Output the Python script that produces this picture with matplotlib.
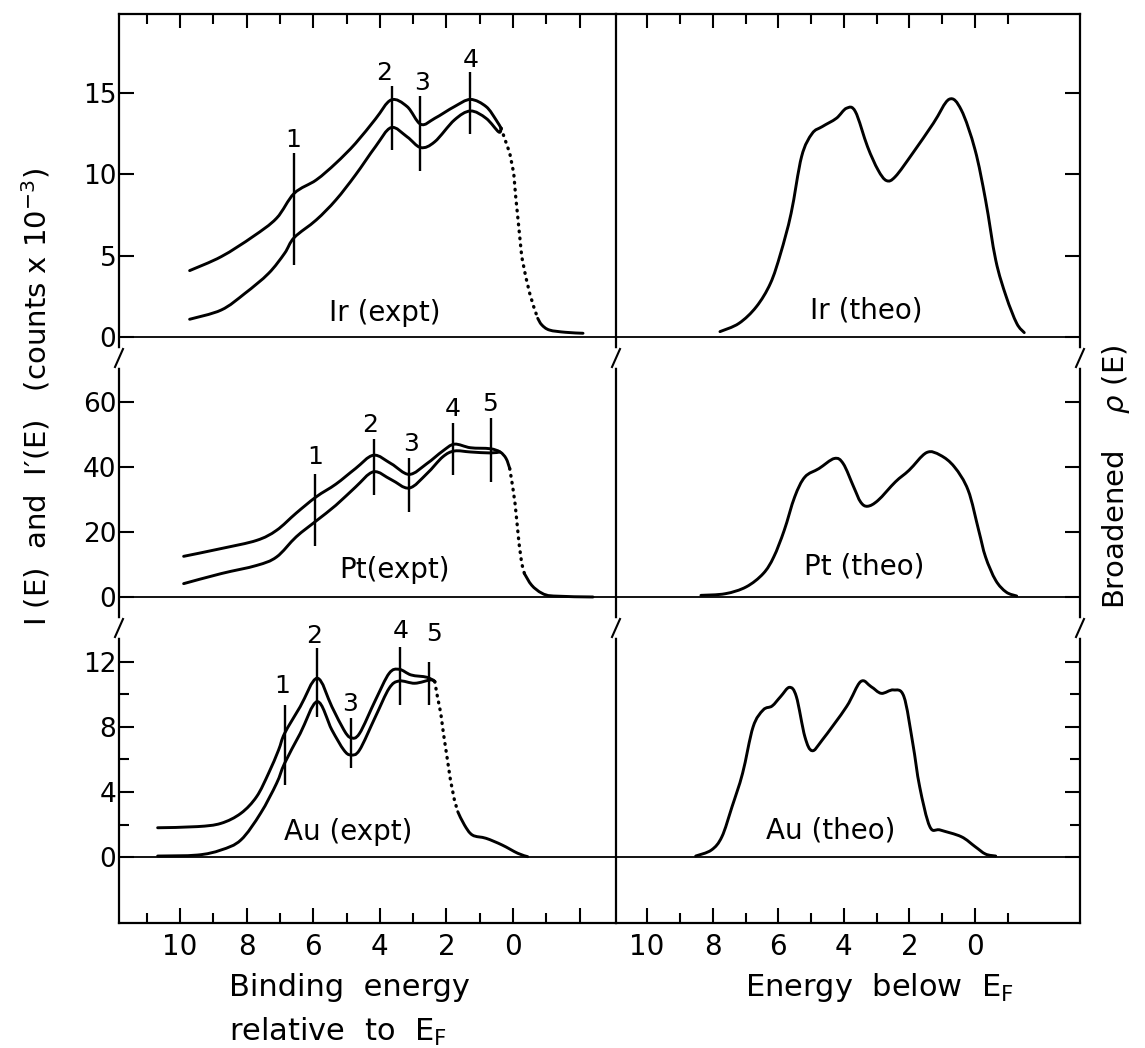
import matplotlib
matplotlib.use("Agg")
import numpy as np
import matplotlib.pyplot as plt
from matplotlib.lines import Line2D
from matplotlib.path import Path
from matplotlib.patches import PathPatch

plt.rcParams['font.family'] = ['DejaVu Sans']

# ---------------- data ----------------
# Ir experiment: I(E) upper, I'(E) lower, dotted Fermi edge, solid tail
ir_up_x = [9.71, 8.76, 7.81, 7.10, 6.57, 5.91, 5.32, 4.73, 4.13, 3.66, 3.18, 2.77, 2.35, 1.76, 1.28, 0.81, 0.51, 0.36]
ir_up_y = [4.08, 4.94, 6.17, 7.30, 8.83, 9.65, 10.68, 11.9, 13.4, 14.57, 14.16, 13.07, 13.44, 14.16, 14.6, 14.16, 13.34, 12.83]
ir_lo_x = [9.71, 8.76, 8.05, 7.34, 6.86, 6.57, 5.91, 5.32, 4.73, 4.13, 3.66, 3.18, 2.77, 2.35, 1.76, 1.28, 0.81, 0.43, 0.36]
ir_lo_y = [1.09, 1.66, 2.68, 3.91, 5.14, 6.11, 7.19, 8.42, 9.96, 11.7, 12.87, 12.3, 11.64, 12.0, 13.34, 13.89, 13.44, 12.6, 12.83]
ir_dot_x = [0.36, 0.27, 0.10, -0.02, -0.08, -0.14, -0.20, -0.26, -0.38, -0.50, -0.62, -0.74]
ir_dot_y = [12.83, 12.3, 11.3, 10.06, 8.6, 7.4, 6.17, 4.94, 3.71, 2.68, 1.86, 1.15]
ir_tail_x = [-0.74, -0.86, -1.09, -1.57, -2.10]
ir_tail_y = [1.15, 0.75, 0.43, 0.29, 0.23]
ir_mark_x = [6.57, 3.62, 2.79, 1.28]
ir_mark_lo = [4.43, 11.5, 10.2, 12.5]
ir_mark_hi = [11.3, 15.43, 14.8, 16.3]
ir_num_x = [6.6, 3.87, 2.73, 1.28]
ir_num_y = [12.1, 16.2, 15.6, 17.0]
ir_num = ['1', '2', '3', '4']

# Pt experiment
pt_up_x = [9.89, 8.76, 7.70, 7.10, 6.51, 5.91, 5.32, 4.73, 4.19, 3.66, 3.12, 2.59, 2.11, 1.76, 1.28, 0.69, 0.39, 0.21, 0.10]
pt_up_y = [12.5, 14.9, 17.4, 20.5, 25.8, 30.8, 34.7, 39.5, 43.6, 41.0, 37.7, 41.0, 44.9, 47.0, 45.9, 45.6, 44.6, 42.6, 39.5]
pt_lo_x = [9.89, 8.76, 7.70, 7.10, 6.51, 5.91, 5.32, 4.73, 4.19, 3.66, 3.12, 2.59, 2.11, 1.76, 1.28, 0.69, 0.39]
pt_lo_y = [4.1, 7.2, 9.7, 12.3, 18.5, 23.4, 28.2, 33.8, 38.5, 36.1, 33.5, 37.9, 43.1, 44.9, 44.6, 44.3, 44.6]
pt_dot_x = [0.10, 0.01, -0.06, -0.12, -0.18, -0.26, -0.34]
pt_dot_y = [39.5, 33.8, 28.7, 22.6, 16.4, 10.3, 7.2]
pt_tail_x = [-0.34, -0.56, -0.86, -1.21, -2.40]
pt_tail_y = [7.2, 3.6, 1.2, 0.3, 0.0]
pt_mark_x = [5.94, 4.16, 3.12, 1.79, 0.67]
pt_mark_lo = [15.6, 31.3, 26.2, 37.4, 35.4]
pt_mark_hi = [37.9, 48.7, 42.6, 53.5, 54.9]
pt_num_x = [5.95, 4.28, 3.06, 1.82, 0.69]
pt_num_y = [43.1, 52.8, 47.2, 57.7, 59.5]
pt_num = ['1', '2', '3', '4', '5']

# Au experiment
au_up_x = [10.67, 9.48, 8.77, 8.17, 7.70, 7.34, 7.04, 6.86, 6.39, 5.88, 5.44, 5.08, 4.87, 4.61, 4.13, 3.72, 3.42, 3.06, 2.59, 2.35]
au_up_y = [1.8, 1.87, 2.07, 2.69, 3.71, 5.15, 6.58, 7.6, 9.25, 11.0, 9.25, 7.82, 7.34, 7.6, 9.66, 11.3, 11.55, 11.2, 11.06, 10.8]
au_lo_x = [10.67, 9.48, 8.77, 8.17, 7.58, 7.10, 6.86, 6.39, 5.88, 5.44, 5.08, 4.87, 4.61, 4.13, 3.72, 3.42, 2.95, 2.47, 2.35]
au_lo_y = [0.06, 0.12, 0.43, 1.05, 2.69, 4.53, 5.76, 7.6, 9.56, 7.82, 6.58, 6.28, 6.58, 8.64, 10.38, 10.83, 10.69, 10.9, 10.8]
au_dot_x = [2.35, 2.29, 2.17, 2.09, 2.00, 1.88, 1.76, 1.66]
au_dot_y = [10.8, 10.07, 8.84, 7.6, 6.38, 4.74, 3.5, 2.79]
au_tail_x = [1.66, 1.46, 1.22, 0.81, 0.33, -0.14, -0.44]
au_tail_y = [2.79, 1.97, 1.35, 1.15, 0.74, 0.23, 0.02]
au_mark_x = [6.86, 5.88, 4.87, 3.38, 2.53]
au_mark_lo = [4.43, 8.64, 5.46, 9.35, 9.35]
au_mark_hi = [9.35, 12.84, 8.53, 12.94, 12.0]
au_num_x = [6.92, 5.97, 4.9, 3.38, 2.38]
au_num_y = [10.5, 13.6, 9.4, 13.9, 13.7]
au_num = ['1', '2', '3', '4', '5']

# theoretical broadened densities of states
ir_th_x = [7.78, 7.20, 6.67, 6.24, 5.93, 5.61, 5.29, 4.97, 4.66, 4.23, 3.92, 3.65, 3.28, 2.96, 2.70, 2.43,
           1.90, 1.27, 0.79, 0.42, 0.0, -0.32, -0.63, -0.95, -1.27, -1.50]
ir_th_y = [0.33, 0.84, 1.86, 3.30, 5.14, 7.6, 11.09, 12.5, 12.93, 13.44, 14.06, 13.85, 11.7, 10.27, 9.61, 9.86,
           11.3, 13.14, 14.61, 13.95, 11.5, 8.42, 4.73, 2.48, 0.84, 0.27]
pt_th_x = [8.36, 7.62, 6.98, 6.46, 6.14, 5.82, 5.50, 5.19, 4.76, 4.29, 4.02, 3.70, 3.49, 3.28, 2.96, 2.43,
           2.01, 1.48, 1.06, 0.63, 0.21, -0.11, -0.32, -0.63, -0.95, -1.27]
pt_th_y = [0.5, 1.0, 3.1, 7.2, 12.3, 20.5, 30.8, 36.9, 39.5, 42.6, 41.0, 33.8, 29.2, 27.9, 29.7, 35.4,
           39.0, 44.4, 43.6, 40.0, 32.8, 20.5, 12.3, 5.1, 1.5, 0.3]
au_th_x = [8.52, 8.04, 7.72, 7.41, 7.09, 6.77, 6.46, 6.19, 5.93, 5.66, 5.45, 5.19, 4.97, 4.66, 3.92, 3.49,
           3.17, 2.86, 2.49, 2.17, 1.90, 1.69, 1.38, 1.06, 0.42, 0.0, -0.32, -0.63]
au_th_y = [0.06, 0.43, 1.25, 3.1, 5.15, 8.0, 9.05, 9.29, 9.87, 10.44, 9.87, 7.4, 6.54, 7.2, 9.25, 10.79,
           10.48, 10.07, 10.28, 9.87, 7.0, 4.33, 1.87, 1.66, 1.25, 0.64, 0.18, 0.06]

ir_yticks = [0, 5, 10, 15]
pt_yticks = [0, 20, 40, 60]
au_yticks = [0, 4, 8, 12]
au_yminor = [2, 6, 10]

# ---------------- figure ----------------
W, H = 1145, 1048
fig = plt.figure(figsize=(W / 100, H / 100), dpi=100)
fig.patch.set_facecolor('white')


def px_axes(x0, x1, y0, y1):
    return fig.add_axes([x0 / W, 1 - y1 / H, (x1 - x0) / W, (y1 - y0) / H])


XL, XM, XR = 119, 616, 1080
rows = [(14, 358, (-1.29, 19.85)), (358, 628, (-9.54, 73.5)), (628, 923, (-4.06, 14.09))]
left_xlim = (11.83, -3.09)
right_xlim = (10.95, -3.2)

LW = 2.1
axes = []
for r, (y0, y1, ylim) in enumerate(rows):
    axL = px_axes(XL, XM, y0, y1)
    axR = px_axes(XM, XR, y0, y1)
    for ax, xlim in ((axL, left_xlim), (axR, right_xlim)):
        ax.set_xlim(*xlim)
        ax.set_ylim(*ylim)
        ax.patch.set_alpha(0)
        for s in ax.spines.values():
            s.set_linewidth(1.6)
        ax.spines['top'].set_visible(r == 0)
        ax.spines['bottom'].set_visible(r == 2)
        ax.axhline(0, color='black', lw=1.3)
    axR.spines['left'].set_visible(False)
    axes.append((axL, axR))

# x ticks
for ax, major, minor in ((axes[0][0], [10, 8, 6, 4, 2, 0, -2], [11, 9, 7, 5, 3, 1, -1]),
                         (axes[0][1], [10, 8, 6, 4, 2, 0], [9, 7, 5, 3, 1, -1])):
    ax.xaxis.tick_top()
    ax.set_xticks(major)
    ax.set_xticks(minor, minor=True)
    ax.tick_params(axis='x', which='both', direction='in', labeltop=False, width=1.5)
    ax.tick_params(axis='x', which='major', length=10)
    ax.tick_params(axis='x', which='minor', length=7)
for ax, major, minor, labels in ((axes[2][0], [10, 8, 6, 4, 2, 0, -2], [11, 9, 7, 5, 3, 1, -1],
                                  ['10', '8', '6', '4', '2', '0', '']),
                                 (axes[2][1], [10, 8, 6, 4, 2, 0], [9, 7, 5, 3, 1, -1],
                                  ['10', '8', '6', '4', '2', '0'])):
    ax.set_xticks(major, labels=labels)
    ax.set_xticks(minor, minor=True)
    ax.tick_params(axis='x', which='both', direction='in', width=1.5, labelsize=20, pad=7)
    ax.tick_params(axis='x', which='major', length=11)
    ax.tick_params(axis='x', which='minor', length=7)
for ax in (axes[1][0], axes[1][1]):
    ax.set_xticks([])

# y ticks
for (axL, axR), yt in zip(axes, (ir_yticks, pt_yticks, au_yticks)):
    axL.set_yticks(yt, labels=[str(v) for v in yt])
    axL.tick_params(axis='y', which='both', direction='in', length=11, width=1.5, labelsize=19, pad=2)
    axR.yaxis.tick_right()
    axR.set_yticks(yt)
    axR.tick_params(axis='y', which='both', direction='in', length=11, width=1.5, labelright=False)
for ax in axes[2]:
    ax.set_yticks(au_yminor, minor=True)
    ax.tick_params(axis='y', which='minor', direction='in', length=7, width=1.5)


def pen_curve(ax, xs, ys, lw=LW):
    # smooth pen-drawn look: cubic Bezier segments through the read points
    p = np.column_stack([xs, ys]).astype(float)
    ext = np.vstack([p[0], p, p[-1]])
    verts = [p[0]]
    codes = [Path.MOVETO]
    for i in range(len(p) - 1):
        p0, p1, p2, p3 = ext[i], ext[i + 1], ext[i + 2], ext[i + 3]
        verts += [p1 + (p2 - p0) / 6.0, p2 - (p3 - p1) / 6.0, p2]
        codes += [Path.CURVE4] * 3
    ax.add_patch(PathPatch(Path(verts, codes), fill=False, edgecolor='black', lw=lw,
                           capstyle='round', joinstyle='round'))


def draw_expt(ax, ux, uy, lx, ly, dx, dy, tx, ty, mx, mlo, mhi, nx, ny, nums, name, lpos):
    pen_curve(ax, ux, uy)
    pen_curve(ax, lx, ly)
    ax.plot(dx, dy, color='black', lw=2.4, linestyle=(0, (0.2, 1.9)), dash_capstyle='round')
    pen_curve(ax, tx, ty)
    ax.vlines(mx, mlo, mhi, color='black', lw=1.7)
    for x, y, t in zip(nx, ny, nums):
        ax.text(x, y, t, ha='center', va='center', fontsize=18)
    ax.text(lpos[0], lpos[1], name, ha='center', va='center', fontsize=20)


draw_expt(axes[0][0], ir_up_x, ir_up_y, ir_lo_x, ir_lo_y, ir_dot_x, ir_dot_y, ir_tail_x, ir_tail_y,
          ir_mark_x, ir_mark_lo, ir_mark_hi, ir_num_x, ir_num_y, ir_num, 'Ir (expt)', (3.84, 1.5))
draw_expt(axes[1][0], pt_up_x, pt_up_y, pt_lo_x, pt_lo_y, pt_dot_x, pt_dot_y, pt_tail_x, pt_tail_y,
          pt_mark_x, pt_mark_lo, pt_mark_hi, pt_num_x, pt_num_y, pt_num, 'Pt(expt)', (3.56, 8.2))
draw_expt(axes[2][0], au_up_x, au_up_y, au_lo_x, au_lo_y, au_dot_x, au_dot_y, au_tail_x, au_tail_y,
          au_mark_x, au_mark_lo, au_mark_hi, au_num_x, au_num_y, au_num, 'Au (expt)', (4.96, 1.56))

for ax, x, y, name, lpos in ((axes[0][1], ir_th_x, ir_th_y, 'Ir (theo)', (3.33, 1.6)),
                             (axes[1][1], pt_th_x, pt_th_y, 'Pt (theo)', (3.37, 9.5)),
                             (axes[2][1], au_th_x, au_th_y, 'Au (theo)', (4.39, 1.66))):
    pen_curve(ax, x, y)
    ax.text(lpos[0], lpos[1], name, ha='center', va='center', fontsize=20)


# axis breaks on the vertical lines
def brk(px, py):
    fig.add_artist(Line2D([px / W, px / W], [1 - (py - 7) / H, 1 - (py + 7) / H],
                          color='white', lw=4, transform=fig.transFigure))
    fig.add_artist(Line2D([(px - 4) / W, (px + 4) / W], [1 - (py + 9) / H, 1 - (py - 9) / H],
                          color='black', lw=1.5, transform=fig.transFigure))


for py in (358, 628):
    for px in (XL, XM, XR):
        brk(px, py)

# axis titles
fig.text(36 / W, 1 - 397 / H, "I (E)  and  I\u2032(E)   (counts x 10$^{-3}$)", rotation=90,
         ha='center', va='center', fontsize=21)
fig.text(1116 / W, 1 - 477 / H, r"Broadened    $\rho$ (E)", rotation=90,
         ha='center', va='center', fontsize=21)
fig.text(229 / W, 1 - 987 / H, "Binding  energy", ha='left', va='center', fontsize=22)
fig.text(229 / W, 1 - 1032 / H, "relative  to  E$_\\mathrm{F}$", ha='left', va='center', fontsize=22)
fig.text(879 / W, 1 - 987 / H, "Energy  below  E$_\\mathrm{F}$", ha='center', va='center', fontsize=22)

fig.savefig('out.png', dpi=100, facecolor='white')
